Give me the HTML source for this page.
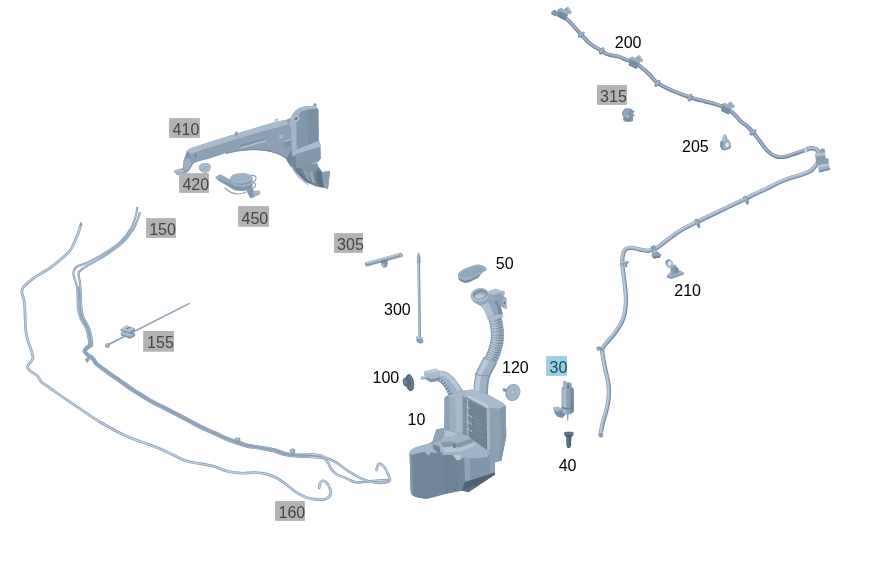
<!DOCTYPE html>
<html>
<head>
<meta charset="utf-8">
<title>Parts diagram</title>
<style>
html,body{margin:0;padding:0;background:#fff;}
body{width:882px;height:584px;overflow:hidden;position:relative;font-family:"Liberation Sans",Arial,sans-serif;}
svg{position:absolute;left:0;top:0;display:block;will-change:transform;}
.lb{font-family:"Liberation Sans",Arial,sans-serif;font-size:16px;fill:#000;}
.lg{font-family:"Liberation Sans",Arial,sans-serif;font-size:16px;fill:#454545;}
.lbl{font-family:"Liberation Sans",Arial,sans-serif;font-size:16px;fill:#134b60;}
.h{fill:none;stroke-linecap:round;stroke-linejoin:round;}
</style>
</head>
<body>
<svg width="882" height="584" viewBox="0 0 882 584">
<defs>
<linearGradient id="gTankFront" x1="0" y1="0" x2="1" y2="0">
<stop offset="0" stop-color="#8195a9"/><stop offset="1" stop-color="#93a7ba"/>
</linearGradient>
</defs>

<!-- ===== HOSES LEFT ===== -->
<g id="hoses-left">
<path class="h" d="M80.9 224.5 C80.7 225.2 80.2 227.1 79.5 229.0 C78.8 230.9 78.7 232.3 77.0 236.0 C75.3 239.7 73.6 246.3 69.3 251.4 C65.0 256.5 57.4 262.3 51.4 266.8 C45.4 271.3 37.9 275.1 33.4 278.3 C28.9 281.5 26.3 283.9 24.4 286.0 C22.5 288.1 21.8 288.4 21.8 291.2 C21.8 294.0 23.8 297.9 24.4 302.7 C25.0 307.5 25.0 315.4 25.2 320.0 C25.4 324.6 25.5 327.0 25.8 330.0 C26.1 333.0 26.2 334.8 27.1 338.2 C28.0 341.6 30.2 347.1 31.2 350.5 C32.1 353.9 33.4 356.2 32.8 358.8 C32.2 361.4 28.0 364.2 27.6 366.3 C27.2 368.4 28.9 369.5 30.5 371.1 C32.1 372.7 35.6 374.1 37.4 375.9 C39.2 377.7 39.2 379.8 41.5 382.0 C43.8 384.2 47.2 386.1 51.1 388.9 C55.0 391.6 59.8 395.1 64.8 398.5 C69.8 401.9 75.3 405.6 81.2 409.5 C87.1 413.4 92.7 417.7 100.0 422.0 C107.3 426.3 117.3 431.9 125.0 435.5 C132.7 439.1 139.7 441.1 146.0 443.5 C152.3 445.9 156.2 447.1 162.9 450.0 C169.6 452.9 179.7 458.5 185.9 460.8 C192.1 463.1 195.4 462.7 200.0 463.6 C204.6 464.5 209.1 465.1 213.7 466.4 C218.3 467.7 222.8 470.1 227.4 471.2 C232.0 472.3 236.4 472.9 241.0 473.2 C245.6 473.4 250.7 472.6 254.8 472.7 C258.9 472.8 262.4 473.1 265.8 473.9 C269.2 474.7 272.1 475.7 275.3 477.3 C278.5 478.9 281.4 480.9 285.0 483.5 C288.6 486.1 293.2 490.4 296.8 492.7 C300.4 495.0 303.0 496.4 306.4 497.5 C309.8 498.6 314.2 499.4 317.4 499.6 C320.6 499.8 323.4 499.7 325.6 498.9 C327.8 498.1 329.7 496.6 330.4 494.8 C331.1 493.0 330.4 489.9 329.7 487.9 C329.0 485.8 327.5 483.7 326.3 482.5 C325.1 481.3 323.4 480.6 322.4 480.8 C321.3 481.0 320.5 482.6 320.0 483.8 C319.5 485.0 319.3 487.2 319.2 487.9" stroke="#8398ae" stroke-width="2.7"/><path class="h" d="M80.9 224.5 C80.7 225.2 80.2 227.1 79.5 229.0 C78.8 230.9 78.7 232.3 77.0 236.0 C75.3 239.7 73.6 246.3 69.3 251.4 C65.0 256.5 57.4 262.3 51.4 266.8 C45.4 271.3 37.9 275.1 33.4 278.3 C28.9 281.5 26.3 283.9 24.4 286.0 C22.5 288.1 21.8 288.4 21.8 291.2 C21.8 294.0 23.8 297.9 24.4 302.7 C25.0 307.5 25.0 315.4 25.2 320.0 C25.4 324.6 25.5 327.0 25.8 330.0 C26.1 333.0 26.2 334.8 27.1 338.2 C28.0 341.6 30.2 347.1 31.2 350.5 C32.1 353.9 33.4 356.2 32.8 358.8 C32.2 361.4 28.0 364.2 27.6 366.3 C27.2 368.4 28.9 369.5 30.5 371.1 C32.1 372.7 35.6 374.1 37.4 375.9 C39.2 377.7 39.2 379.8 41.5 382.0 C43.8 384.2 47.2 386.1 51.1 388.9 C55.0 391.6 59.8 395.1 64.8 398.5 C69.8 401.9 75.3 405.6 81.2 409.5 C87.1 413.4 92.7 417.7 100.0 422.0 C107.3 426.3 117.3 431.9 125.0 435.5 C132.7 439.1 139.7 441.1 146.0 443.5 C152.3 445.9 156.2 447.1 162.9 450.0 C169.6 452.9 179.7 458.5 185.9 460.8 C192.1 463.1 195.4 462.7 200.0 463.6 C204.6 464.5 209.1 465.1 213.7 466.4 C218.3 467.7 222.8 470.1 227.4 471.2 C232.0 472.3 236.4 472.9 241.0 473.2 C245.6 473.4 250.7 472.6 254.8 472.7 C258.9 472.8 262.4 473.1 265.8 473.9 C269.2 474.7 272.1 475.7 275.3 477.3 C278.5 478.9 281.4 480.9 285.0 483.5 C288.6 486.1 293.2 490.4 296.8 492.7 C300.4 495.0 303.0 496.4 306.4 497.5 C309.8 498.6 314.2 499.4 317.4 499.6 C320.6 499.8 323.4 499.7 325.6 498.9 C327.8 498.1 329.7 496.6 330.4 494.8 C331.1 493.0 330.4 489.9 329.7 487.9 C329.0 485.8 327.5 483.7 326.3 482.5 C325.1 481.3 323.4 480.6 322.4 480.8 C321.3 481.0 320.5 482.6 320.0 483.8 C319.5 485.0 319.3 487.2 319.2 487.9" stroke="#bfcfe0" stroke-width="1.4"/>
<path class="h" d="M78.8 287.3 C79.0 290.7 79.2 302.8 79.7 307.9 C80.2 313.0 80.7 314.6 82.0 318.0 C83.3 321.4 86.2 324.6 87.5 328.0 C88.8 331.4 89.5 335.4 90.1 338.2 C90.6 341.0 91.4 343.3 90.8 345.0 C90.2 346.7 87.4 347.5 86.4 348.5 C85.4 349.5 84.5 350.2 84.7 351.2 C84.9 352.2 86.0 353.4 87.4 354.7 C88.8 356.0 91.3 357.2 92.9 358.8 C94.5 360.4 94.5 361.9 97.0 364.2 C99.5 366.5 103.9 369.5 108.0 372.5 C112.1 375.5 117.0 378.8 121.6 382.0 C126.1 385.2 130.6 388.5 135.3 391.6 C140.0 394.7 145.4 398.0 150.0 400.6 C154.6 403.2 157.8 404.5 162.7 407.0 C167.6 409.5 173.1 412.3 179.3 415.6 C185.5 418.9 194.3 423.7 200.0 426.6 C205.7 429.5 209.1 430.7 213.7 432.8 C218.3 434.9 223.5 437.4 227.4 439.0 C231.3 440.6 233.6 441.3 237.0 442.4 C240.4 443.5 243.9 444.9 248.0 445.8 C252.1 446.7 257.1 447.1 261.6 447.9 C266.2 448.7 271.4 449.6 275.3 450.6 C279.2 451.6 281.6 453.2 285.0 454.0 C288.4 454.8 291.8 455.1 295.9 455.4 C300.0 455.7 305.6 455.4 309.6 455.6 C313.6 455.8 318.3 456.3 320.0 456.4" stroke="#7d92a8" stroke-width="1.8"/><path class="h" d="M78.8 287.3 C79.0 290.7 79.2 302.8 79.7 307.9 C80.2 313.0 80.7 314.6 82.0 318.0 C83.3 321.4 86.2 324.6 87.5 328.0 C88.8 331.4 89.5 335.4 90.1 338.2 C90.6 341.0 91.4 343.3 90.8 345.0 C90.2 346.7 87.4 347.5 86.4 348.5 C85.4 349.5 84.5 350.2 84.7 351.2 C84.9 352.2 86.0 353.4 87.4 354.7 C88.8 356.0 91.3 357.2 92.9 358.8 C94.5 360.4 94.5 361.9 97.0 364.2 C99.5 366.5 103.9 369.5 108.0 372.5 C112.1 375.5 117.0 378.8 121.6 382.0 C126.1 385.2 130.6 388.5 135.3 391.6 C140.0 394.7 145.4 398.0 150.0 400.6 C154.6 403.2 157.8 404.5 162.7 407.0 C167.6 409.5 173.1 412.3 179.3 415.6 C185.5 418.9 194.3 423.7 200.0 426.6 C205.7 429.5 209.1 430.7 213.7 432.8 C218.3 434.9 223.5 437.4 227.4 439.0 C231.3 440.6 233.6 441.3 237.0 442.4 C240.4 443.5 243.9 444.9 248.0 445.8 C252.1 446.7 257.1 447.1 261.6 447.9 C266.2 448.7 271.4 449.6 275.3 450.6 C279.2 451.6 281.6 453.2 285.0 454.0 C288.4 454.8 291.8 455.1 295.9 455.4 C300.0 455.7 305.6 455.4 309.6 455.6 C313.6 455.8 318.3 456.3 320.0 456.4" stroke="#bccbdb" stroke-width="0.6"/>
<path class="h" d="M89.4 344.5 C88.7 345.0 86.5 346.5 85.5 347.7 C84.6 348.8 83.3 350.1 83.5 351.4 C83.7 352.7 85.2 354.2 86.6 355.6 C88.0 357.0 90.5 358.1 92.1 359.7 C93.7 361.2 93.6 362.8 96.2 365.1 C98.7 367.4 103.1 370.5 107.3 373.5 C111.4 376.5 116.3 379.8 120.9 383.0 C125.4 386.2 129.9 389.5 134.6 392.6 C139.4 395.8 144.8 399.1 149.4 401.7 C154.0 404.3 157.2 405.6 162.1 408.1 C167.0 410.6 172.5 413.4 178.7 416.7 C184.9 420.0 193.7 424.8 199.4 427.7 C205.2 430.6 208.6 431.9 213.2 433.9 C217.8 436.0 223.0 438.5 226.9 440.2 C230.8 441.8 233.1 442.4 236.6 443.6 C240.1 444.7 243.6 446.1 247.7 447.0 C251.9 447.9 256.8 448.3 261.4 449.1 C265.9 449.9 271.1 450.8 275.0 451.8 C278.9 452.8 281.2 454.4 284.7 455.2 C288.2 456.0 291.7 456.4 295.8 456.6 C300.0 456.9 305.5 456.7 309.5 456.8 C313.6 457.0 318.2 457.5 319.9 457.6" stroke="#7d92a8" stroke-width="1.8"/><path class="h" d="M89.4 344.5 C88.7 345.0 86.5 346.5 85.5 347.7 C84.6 348.8 83.3 350.1 83.5 351.4 C83.7 352.7 85.2 354.2 86.6 355.6 C88.0 357.0 90.5 358.1 92.1 359.7 C93.7 361.2 93.6 362.8 96.2 365.1 C98.7 367.4 103.1 370.5 107.3 373.5 C111.4 376.5 116.3 379.8 120.9 383.0 C125.4 386.2 129.9 389.5 134.6 392.6 C139.4 395.8 144.8 399.1 149.4 401.7 C154.0 404.3 157.2 405.6 162.1 408.1 C167.0 410.6 172.5 413.4 178.7 416.7 C184.9 420.0 193.7 424.8 199.4 427.7 C205.2 430.6 208.6 431.9 213.2 433.9 C217.8 436.0 223.0 438.5 226.9 440.2 C230.8 441.8 233.1 442.4 236.6 443.6 C240.1 444.7 243.6 446.1 247.7 447.0 C251.9 447.9 256.8 448.3 261.4 449.1 C265.9 449.9 271.1 450.8 275.0 451.8 C278.9 452.8 281.2 454.4 284.7 455.2 C288.2 456.0 291.7 456.4 295.8 456.6 C300.0 456.9 305.5 456.7 309.5 456.8 C313.6 457.0 318.2 457.5 319.9 457.6" stroke="#bccbdb" stroke-width="0.6"/>
<path class="h" d="M137.2 207.7 C137.0 209.0 136.9 212.2 135.9 215.6 C134.9 219.1 133.5 224.2 131.0 228.4 C128.5 232.7 125.6 236.9 120.9 241.2 C116.3 245.5 109.0 250.6 103.1 254.2 C97.2 257.9 90.1 261.0 85.6 263.2 C81.1 265.3 78.3 265.3 76.2 267.1 C74.2 268.9 73.3 270.7 73.4 274.1 C73.5 277.5 76.3 281.8 77.1 287.5 C77.9 293.1 77.4 302.9 78.0 308.1 C78.6 313.3 79.3 315.1 80.6 318.5 C82.0 322.0 84.8 325.2 86.1 328.6 C87.4 331.9 88.1 335.8 88.6 338.5 C89.2 341.1 89.3 343.5 89.4 344.5" stroke="#8398ae" stroke-width="2.1"/><path class="h" d="M137.2 207.7 C137.0 209.0 136.9 212.2 135.9 215.6 C134.9 219.1 133.5 224.2 131.0 228.4 C128.5 232.7 125.6 236.9 120.9 241.2 C116.3 245.5 109.0 250.6 103.1 254.2 C97.2 257.9 90.1 261.0 85.6 263.2 C81.1 265.3 78.3 265.3 76.2 267.1 C74.2 268.9 73.3 270.7 73.4 274.1 C73.5 277.5 76.3 281.8 77.1 287.5 C77.9 293.1 77.4 302.9 78.0 308.1 C78.6 313.3 79.3 315.1 80.6 318.5 C82.0 322.0 84.8 325.2 86.1 328.6 C87.4 331.9 88.1 335.8 88.6 338.5 C89.2 341.1 89.3 343.5 89.4 344.5" stroke="#bfcfe0" stroke-width="0.8"/>
<path class="h" d="M309.5 456.8 C311.3 457.0 317.5 457.4 319.9 457.6 C322.3 457.9 322.8 457.6 324.2 458.5 C325.6 459.4 327.3 461.6 328.4 463.3 C329.5 465.0 329.6 467.0 331.0 468.8 C332.4 470.6 334.3 472.7 336.6 474.2 C338.9 475.7 342.3 476.6 344.8 477.7 C347.3 478.8 349.3 480.2 351.6 481.0 C353.9 481.8 355.5 482.5 358.5 482.5 C361.5 482.5 366.3 481.5 369.5 481.2 C372.7 480.9 374.5 480.8 377.7 480.6 C380.9 480.4 386.8 480.1 388.6 480.0" stroke="#8398ae" stroke-width="2.5"/><path class="h" d="M309.5 456.8 C311.3 457.0 317.5 457.4 319.9 457.6 C322.3 457.9 322.8 457.6 324.2 458.5 C325.6 459.4 327.3 461.6 328.4 463.3 C329.5 465.0 329.6 467.0 331.0 468.8 C332.4 470.6 334.3 472.7 336.6 474.2 C338.9 475.7 342.3 476.6 344.8 477.7 C347.3 478.8 349.3 480.2 351.6 481.0 C353.9 481.8 355.5 482.5 358.5 482.5 C361.5 482.5 366.3 481.5 369.5 481.2 C372.7 480.9 374.5 480.8 377.7 480.6 C380.9 480.4 386.8 480.1 388.6 480.0" stroke="#bfcfe0" stroke-width="1.2"/>
<path class="h" d="M92.2 345.5 C91.4 346.1 88.3 348.4 87.3 349.3 C86.2 350.3 85.7 350.3 85.9 351.0 C86.0 351.8 86.9 352.7 88.2 353.8 C89.5 355.0 92.1 356.4 93.7 357.9 C95.3 359.5 95.3 361.0 97.8 363.3 C100.3 365.5 104.7 368.5 108.7 371.5 C112.8 374.4 117.8 377.8 122.3 381.0 C126.9 384.2 131.3 387.5 136.0 390.6 C140.7 393.6 146.1 397.0 150.6 399.5 C155.2 402.1 158.4 403.4 163.3 405.9 C168.1 408.4 173.7 411.2 179.9 414.5 C186.1 417.8 194.8 422.6 200.6 425.5 C206.3 428.3 209.7 429.6 214.2 431.7 C218.8 433.7 224.0 436.3 227.9 437.8 C231.7 439.4 234.0 440.1 237.4 441.2 C240.8 442.3 244.2 443.7 248.3 444.6 C252.3 445.5 257.3 445.9 261.8 446.7 C266.4 447.5 271.7 448.4 275.6 449.4 C279.5 450.4 281.9 452.0 285.3 452.8 C288.7 453.6 291.9 453.9 296.0 454.2 C300.0 454.4 305.6 454.2 309.7 454.4 C313.7 454.5 318.4 455.0 320.1 455.2" stroke="#7d92a8" stroke-width="1.8"/><path class="h" d="M92.2 345.5 C91.4 346.1 88.3 348.4 87.3 349.3 C86.2 350.3 85.7 350.3 85.9 351.0 C86.0 351.8 86.9 352.7 88.2 353.8 C89.5 355.0 92.1 356.4 93.7 357.9 C95.3 359.5 95.3 361.0 97.8 363.3 C100.3 365.5 104.7 368.5 108.7 371.5 C112.8 374.4 117.8 377.8 122.3 381.0 C126.9 384.2 131.3 387.5 136.0 390.6 C140.7 393.6 146.1 397.0 150.6 399.5 C155.2 402.1 158.4 403.4 163.3 405.9 C168.1 408.4 173.7 411.2 179.9 414.5 C186.1 417.8 194.8 422.6 200.6 425.5 C206.3 428.3 209.7 429.6 214.2 431.7 C218.8 433.7 224.0 436.3 227.9 437.8 C231.7 439.4 234.0 440.1 237.4 441.2 C240.8 442.3 244.2 443.7 248.3 444.6 C252.3 445.5 257.3 445.9 261.8 446.7 C266.4 447.5 271.7 448.4 275.6 449.4 C279.5 450.4 281.9 452.0 285.3 452.8 C288.7 453.6 291.9 453.9 296.0 454.2 C300.0 454.4 305.6 454.2 309.7 454.4 C313.7 454.5 318.4 455.0 320.1 455.2" stroke="#bccbdb" stroke-width="0.6"/>
<path class="h" d="M139.7 213.0 C139.5 213.7 139.7 214.2 138.6 217.0 C137.5 219.8 135.7 225.3 133.0 229.6 C130.3 233.9 127.3 238.4 122.5 242.8 C117.7 247.3 110.2 252.3 104.3 256.2 C98.4 260.0 91.1 263.4 87.0 265.8 C82.9 268.3 81.2 269.6 79.8 270.9 C78.4 272.3 78.5 271.2 78.6 273.9 C78.7 276.6 80.0 281.5 80.5 287.1 C81.0 292.8 80.9 302.7 81.4 307.7 C81.9 312.8 82.1 314.2 83.4 317.5 C84.6 320.7 87.5 324.0 88.9 327.4 C90.3 330.9 91.0 334.9 91.6 337.9 C92.1 340.9 92.1 344.2 92.2 345.5" stroke="#8398ae" stroke-width="2.1"/><path class="h" d="M139.7 213.0 C139.5 213.7 139.7 214.2 138.6 217.0 C137.5 219.8 135.7 225.3 133.0 229.6 C130.3 233.9 127.3 238.4 122.5 242.8 C117.7 247.3 110.2 252.3 104.3 256.2 C98.4 260.0 91.1 263.4 87.0 265.8 C82.9 268.3 81.2 269.6 79.8 270.9 C78.4 272.3 78.5 271.2 78.6 273.9 C78.7 276.6 80.0 281.5 80.5 287.1 C81.0 292.8 80.9 302.7 81.4 307.7 C81.9 312.8 82.1 314.2 83.4 317.5 C84.6 320.7 87.5 324.0 88.9 327.4 C90.3 330.9 91.0 334.9 91.6 337.9 C92.1 340.9 92.1 344.2 92.2 345.5" stroke="#bfcfe0" stroke-width="0.8"/>
<path class="h" d="M309.7 454.4 C311.4 454.5 317.7 454.7 320.1 455.2 C322.5 455.6 321.7 456.0 324.2 457.1 C326.7 458.2 331.8 459.9 335.2 461.9 C338.6 463.8 341.6 466.6 344.8 468.8 C348.0 471.0 351.2 473.1 354.4 474.9 C357.6 476.7 360.6 478.4 364.0 479.7 C367.4 481.0 371.2 482.0 374.9 482.5 C378.5 483.0 383.4 482.9 385.9 482.5 C388.4 482.1 389.6 481.6 390.0 480.2 C390.4 478.8 388.9 476.3 388.0 474.2 C387.1 472.1 385.7 469.1 384.5 467.4 C383.3 465.7 381.7 464.4 380.6 464.0 C379.5 463.6 378.7 463.7 378.0 464.7 C377.3 465.7 376.7 469.1 376.4 470.0" stroke="#8398ae" stroke-width="2.5"/><path class="h" d="M309.7 454.4 C311.4 454.5 317.7 454.7 320.1 455.2 C322.5 455.6 321.7 456.0 324.2 457.1 C326.7 458.2 331.8 459.9 335.2 461.9 C338.6 463.8 341.6 466.6 344.8 468.8 C348.0 471.0 351.2 473.1 354.4 474.9 C357.6 476.7 360.6 478.4 364.0 479.7 C367.4 481.0 371.2 482.0 374.9 482.5 C378.5 483.0 383.4 482.9 385.9 482.5 C388.4 482.1 389.6 481.6 390.0 480.2 C390.4 478.8 388.9 476.3 388.0 474.2 C387.1 472.1 385.7 469.1 384.5 467.4 C383.3 465.7 381.7 464.4 380.6 464.0 C379.5 463.6 378.7 463.7 378.0 464.7 C377.3 465.7 376.7 469.1 376.4 470.0" stroke="#bfcfe0" stroke-width="1.2"/>
<path class="h" d="M80.6 225.6 L81.2 222.8" stroke="#8a9eb3" stroke-width="1.6"/>

</g>

<!-- ===== HOSE RIGHT (200) ===== -->
<g id="hose-right">
<path class="h" d="M553.2 13.0 C554.3 13.2 557.9 13.6 560.0 14.5 C562.1 15.4 563.9 16.8 566.0 18.5 C568.1 20.2 569.9 22.0 572.4 24.7 C574.9 27.4 578.3 31.4 581.3 34.6 C584.3 37.8 586.8 41.1 590.2 43.8 C593.6 46.5 599.2 49.3 601.8 51.0 C604.4 52.7 604.3 53.1 606.0 53.8 C607.7 54.5 609.7 54.9 612.0 55.4 C614.3 55.9 617.3 56.2 619.7 57.0 C622.1 57.8 624.0 59.0 626.5 60.0 C629.0 61.0 632.1 61.6 634.5 62.8 C636.9 64.0 638.6 65.1 641.0 67.0 C643.4 68.9 646.2 71.3 649.0 74.0 C651.8 76.7 653.7 80.2 657.5 83.0 C661.3 85.8 666.6 88.1 672.0 90.5 C677.4 92.9 684.5 95.5 690.0 97.3 C695.5 99.1 700.8 100.4 705.0 101.5 C709.2 102.6 711.5 102.8 715.0 104.0 C718.5 105.2 723.0 107.0 726.0 108.5 C729.0 110.0 730.7 111.0 733.0 113.0 C735.3 115.0 737.7 118.4 740.0 120.6 C742.3 122.8 744.8 124.0 747.0 126.0 C749.2 128.0 750.8 129.6 753.0 132.3 C755.2 135.0 758.1 138.9 760.5 142.0 C762.9 145.1 764.9 148.4 767.4 150.8 C769.9 153.2 772.6 155.3 775.6 156.3 C778.6 157.3 782.0 157.2 785.2 156.8 C788.4 156.4 791.8 154.8 794.8 153.8 C797.8 152.8 800.7 151.8 803.0 151.0 C805.3 150.2 807.6 149.3 808.5 149.0" stroke="#6c8196" stroke-width="3.9"/><path class="h" d="M553.2 13.0 C554.3 13.2 557.9 13.6 560.0 14.5 C562.1 15.4 563.9 16.8 566.0 18.5 C568.1 20.2 569.9 22.0 572.4 24.7 C574.9 27.4 578.3 31.4 581.3 34.6 C584.3 37.8 586.8 41.1 590.2 43.8 C593.6 46.5 599.2 49.3 601.8 51.0 C604.4 52.7 604.3 53.1 606.0 53.8 C607.7 54.5 609.7 54.9 612.0 55.4 C614.3 55.9 617.3 56.2 619.7 57.0 C622.1 57.8 624.0 59.0 626.5 60.0 C629.0 61.0 632.1 61.6 634.5 62.8 C636.9 64.0 638.6 65.1 641.0 67.0 C643.4 68.9 646.2 71.3 649.0 74.0 C651.8 76.7 653.7 80.2 657.5 83.0 C661.3 85.8 666.6 88.1 672.0 90.5 C677.4 92.9 684.5 95.5 690.0 97.3 C695.5 99.1 700.8 100.4 705.0 101.5 C709.2 102.6 711.5 102.8 715.0 104.0 C718.5 105.2 723.0 107.0 726.0 108.5 C729.0 110.0 730.7 111.0 733.0 113.0 C735.3 115.0 737.7 118.4 740.0 120.6 C742.3 122.8 744.8 124.0 747.0 126.0 C749.2 128.0 750.8 129.6 753.0 132.3 C755.2 135.0 758.1 138.9 760.5 142.0 C762.9 145.1 764.9 148.4 767.4 150.8 C769.9 153.2 772.6 155.3 775.6 156.3 C778.6 157.3 782.0 157.2 785.2 156.8 C788.4 156.4 791.8 154.8 794.8 153.8 C797.8 152.8 800.7 151.8 803.0 151.0 C805.3 150.2 807.6 149.3 808.5 149.0" stroke="#8fa3b8" stroke-width="2.6" transform="translate(-0.35 -0.45)"/><path class="h" d="M553.2 13.0 C554.3 13.2 557.9 13.6 560.0 14.5 C562.1 15.4 563.9 16.8 566.0 18.5 C568.1 20.2 569.9 22.0 572.4 24.7 C574.9 27.4 578.3 31.4 581.3 34.6 C584.3 37.8 586.8 41.1 590.2 43.8 C593.6 46.5 599.2 49.3 601.8 51.0 C604.4 52.7 604.3 53.1 606.0 53.8 C607.7 54.5 609.7 54.9 612.0 55.4 C614.3 55.9 617.3 56.2 619.7 57.0 C622.1 57.8 624.0 59.0 626.5 60.0 C629.0 61.0 632.1 61.6 634.5 62.8 C636.9 64.0 638.6 65.1 641.0 67.0 C643.4 68.9 646.2 71.3 649.0 74.0 C651.8 76.7 653.7 80.2 657.5 83.0 C661.3 85.8 666.6 88.1 672.0 90.5 C677.4 92.9 684.5 95.5 690.0 97.3 C695.5 99.1 700.8 100.4 705.0 101.5 C709.2 102.6 711.5 102.8 715.0 104.0 C718.5 105.2 723.0 107.0 726.0 108.5 C729.0 110.0 730.7 111.0 733.0 113.0 C735.3 115.0 737.7 118.4 740.0 120.6 C742.3 122.8 744.8 124.0 747.0 126.0 C749.2 128.0 750.8 129.6 753.0 132.3 C755.2 135.0 758.1 138.9 760.5 142.0 C762.9 145.1 764.9 148.4 767.4 150.8 C769.9 153.2 772.6 155.3 775.6 156.3 C778.6 157.3 782.0 157.2 785.2 156.8 C788.4 156.4 791.8 154.8 794.8 153.8 C797.8 152.8 800.7 151.8 803.0 151.0 C805.3 150.2 807.6 149.3 808.5 149.0" stroke="#aec0d2" stroke-width="1.0" transform="translate(-0.6 -0.8)"/>
<path class="h" d="M816.5 164.6 C815.6 165.6 813.7 168.8 811.2 170.5 C808.7 172.2 804.8 173.6 801.6 174.8 C798.4 176.0 795.4 176.4 792.0 177.5 C788.6 178.6 785.1 179.8 781.0 181.6 C776.9 183.4 771.9 186.1 767.4 188.3 C762.9 190.5 757.4 192.9 753.7 194.7 C750.1 196.4 751.1 196.1 745.5 198.8 C739.9 201.5 728.1 207.1 720.0 211.0 C711.9 214.9 703.7 218.7 697.0 222.0 C690.3 225.3 685.2 227.8 680.0 231.0 C674.8 234.2 670.0 238.1 666.0 241.0 C662.0 243.9 659.0 246.9 656.0 248.5 C653.0 250.1 650.7 250.6 648.0 250.8 C645.3 251.0 642.7 250.1 640.0 249.6 C637.3 249.1 634.3 247.9 632.0 247.8 C629.7 247.7 627.5 247.9 626.0 249.0 C624.5 250.1 623.6 251.8 623.0 254.5 C622.4 257.2 622.1 261.1 622.3 265.0 C622.5 268.9 623.4 272.2 624.0 278.0 C624.6 283.8 626.1 293.3 626.0 300.0 C625.9 306.7 625.3 312.5 623.5 318.0 C621.7 323.5 617.9 328.8 615.0 333.0 C612.1 337.2 608.1 340.8 606.0 343.5 C603.9 346.2 602.9 346.8 602.4 349.0 C601.9 351.2 602.5 353.5 603.0 357.0 C603.5 360.5 604.6 365.3 605.5 370.0 C606.4 374.7 608.1 380.0 608.6 385.0 C609.1 390.0 608.9 395.5 608.5 400.0 C608.1 404.5 607.0 408.0 606.0 412.0 C605.0 416.0 603.5 420.2 602.6 424.0 C601.7 427.8 600.9 432.8 600.6 434.5" stroke="#768ba0" stroke-width="4.2"/><path class="h" d="M816.5 164.6 C815.6 165.6 813.7 168.8 811.2 170.5 C808.7 172.2 804.8 173.6 801.6 174.8 C798.4 176.0 795.4 176.4 792.0 177.5 C788.6 178.6 785.1 179.8 781.0 181.6 C776.9 183.4 771.9 186.1 767.4 188.3 C762.9 190.5 757.4 192.9 753.7 194.7 C750.1 196.4 751.1 196.1 745.5 198.8 C739.9 201.5 728.1 207.1 720.0 211.0 C711.9 214.9 703.7 218.7 697.0 222.0 C690.3 225.3 685.2 227.8 680.0 231.0 C674.8 234.2 670.0 238.1 666.0 241.0 C662.0 243.9 659.0 246.9 656.0 248.5 C653.0 250.1 650.7 250.6 648.0 250.8 C645.3 251.0 642.7 250.1 640.0 249.6 C637.3 249.1 634.3 247.9 632.0 247.8 C629.7 247.7 627.5 247.9 626.0 249.0 C624.5 250.1 623.6 251.8 623.0 254.5 C622.4 257.2 622.1 261.1 622.3 265.0 C622.5 268.9 623.4 272.2 624.0 278.0 C624.6 283.8 626.1 293.3 626.0 300.0 C625.9 306.7 625.3 312.5 623.5 318.0 C621.7 323.5 617.9 328.8 615.0 333.0 C612.1 337.2 608.1 340.8 606.0 343.5 C603.9 346.2 602.9 346.8 602.4 349.0 C601.9 351.2 602.5 353.5 603.0 357.0 C603.5 360.5 604.6 365.3 605.5 370.0 C606.4 374.7 608.1 380.0 608.6 385.0 C609.1 390.0 608.9 395.5 608.5 400.0 C608.1 404.5 607.0 408.0 606.0 412.0 C605.0 416.0 603.5 420.2 602.6 424.0 C601.7 427.8 600.9 432.8 600.6 434.5" stroke="#a3b6c9" stroke-width="2.9" transform="translate(-0.35 -0.45)"/><path class="h" d="M816.5 164.6 C815.6 165.6 813.7 168.8 811.2 170.5 C808.7 172.2 804.8 173.6 801.6 174.8 C798.4 176.0 795.4 176.4 792.0 177.5 C788.6 178.6 785.1 179.8 781.0 181.6 C776.9 183.4 771.9 186.1 767.4 188.3 C762.9 190.5 757.4 192.9 753.7 194.7 C750.1 196.4 751.1 196.1 745.5 198.8 C739.9 201.5 728.1 207.1 720.0 211.0 C711.9 214.9 703.7 218.7 697.0 222.0 C690.3 225.3 685.2 227.8 680.0 231.0 C674.8 234.2 670.0 238.1 666.0 241.0 C662.0 243.9 659.0 246.9 656.0 248.5 C653.0 250.1 650.7 250.6 648.0 250.8 C645.3 251.0 642.7 250.1 640.0 249.6 C637.3 249.1 634.3 247.9 632.0 247.8 C629.7 247.7 627.5 247.9 626.0 249.0 C624.5 250.1 623.6 251.8 623.0 254.5 C622.4 257.2 622.1 261.1 622.3 265.0 C622.5 268.9 623.4 272.2 624.0 278.0 C624.6 283.8 626.1 293.3 626.0 300.0 C625.9 306.7 625.3 312.5 623.5 318.0 C621.7 323.5 617.9 328.8 615.0 333.0 C612.1 337.2 608.1 340.8 606.0 343.5 C603.9 346.2 602.9 346.8 602.4 349.0 C601.9 351.2 602.5 353.5 603.0 357.0 C603.5 360.5 604.6 365.3 605.5 370.0 C606.4 374.7 608.1 380.0 608.6 385.0 C609.1 390.0 608.9 395.5 608.5 400.0 C608.1 404.5 607.0 408.0 606.0 412.0 C605.0 416.0 603.5 420.2 602.6 424.0 C601.7 427.8 600.9 432.8 600.6 434.5" stroke="#c4d2df" stroke-width="1.0" transform="translate(-0.6 -0.8)"/>
<g transform="translate(581.3 34.6) rotate(48)"><ellipse rx="2.0" ry="4.0" fill="#71869b"/><ellipse cx="-0.3" cy="-0.3" rx="1.4" ry="3.2" fill="#9fb2c5"/></g>
<g transform="translate(601.8 51.0) rotate(30)"><ellipse rx="2.0" ry="4.0" fill="#71869b"/><ellipse cx="-0.3" cy="-0.3" rx="1.4" ry="3.2" fill="#9fb2c5"/></g>
<g transform="translate(657.5 83.5) rotate(40)"><ellipse rx="2.0" ry="4.0" fill="#71869b"/><ellipse cx="-0.3" cy="-0.3" rx="1.4" ry="3.2" fill="#9fb2c5"/></g>
<g transform="translate(690.0 97.5) rotate(20)"><ellipse rx="2.0" ry="4.0" fill="#71869b"/><ellipse cx="-0.3" cy="-0.3" rx="1.4" ry="3.2" fill="#9fb2c5"/></g>
<g transform="translate(753.0 132.3) rotate(52)"><ellipse rx="2.0" ry="4.0" fill="#71869b"/><ellipse cx="-0.3" cy="-0.3" rx="1.4" ry="3.2" fill="#9fb2c5"/></g>
<g transform="translate(746.0 199.4) rotate(-27)"><ellipse rx="2.0" ry="4.0" fill="#71869b"/><ellipse cx="-0.3" cy="-0.3" rx="1.4" ry="3.2" fill="#9fb2c5"/></g>
<g transform="translate(697.3 222.6) rotate(-27)"><ellipse rx="2.0" ry="4.0" fill="#71869b"/><ellipse cx="-0.3" cy="-0.3" rx="1.4" ry="3.2" fill="#9fb2c5"/></g>
<path d="M745.4 201.5 L748.4 200.5 L748.8 204.2 L746.4 204.8 Z" fill="#8195a9"/>
<path d="M696.8 224.6 L699.8 223.6 L700.4 227.4 L698 228 Z" fill="#8195a9"/>
<g transform="translate(563.0 13.5) rotate(33) scale(1.00)"><path d="M-5 -3.6 L4.5 -4 L5.5 3.2 L-4.2 4 Z" fill="#788ca1"/><path d="M-5 -3.6 L4.5 -4 L4.8 -1 L-4.8 -0.4 Z" fill="#9db0c3"/><path d="M-1.5 -4 L0.5 -8.6 L6.6 -6.2 L6.2 -2.6 L4.5 -4 Z" fill="#8da1b5"/><path d="M0.5 -8.6 L6.6 -6.2 L5 -5.2 L1 -6.6 Z" fill="#b4c5d5"/><path d="M-6.4 -1.6 L-4.8 -2.4 L-4.4 2.8 L-6 3 Z" fill="#8397ab"/><path d="M-4.2 4 L5.5 3.2 L5.2 5 L-3.4 5.6 Z" fill="#6a7e93"/></g>
<g transform="translate(634.5 62.0) rotate(30) scale(1.00)"><path d="M-5 -3.6 L4.5 -4 L5.5 3.2 L-4.2 4 Z" fill="#788ca1"/><path d="M-5 -3.6 L4.5 -4 L4.8 -1 L-4.8 -0.4 Z" fill="#9db0c3"/><path d="M-1.5 -4 L0.5 -8.6 L6.6 -6.2 L6.2 -2.6 L4.5 -4 Z" fill="#8da1b5"/><path d="M0.5 -8.6 L6.6 -6.2 L5 -5.2 L1 -6.6 Z" fill="#b4c5d5"/><path d="M-6.4 -1.6 L-4.8 -2.4 L-4.4 2.8 L-6 3 Z" fill="#8397ab"/><path d="M-4.2 4 L5.5 3.2 L5.2 5 L-3.4 5.6 Z" fill="#6a7e93"/></g>
<g transform="translate(726.5 108.0) rotate(30) scale(0.95)"><path d="M-5 -3.6 L4.5 -4 L5.5 3.2 L-4.2 4 Z" fill="#788ca1"/><path d="M-5 -3.6 L4.5 -4 L4.8 -1 L-4.8 -0.4 Z" fill="#9db0c3"/><path d="M-1.5 -4 L0.5 -8.6 L6.6 -6.2 L6.2 -2.6 L4.5 -4 Z" fill="#8da1b5"/><path d="M0.5 -8.6 L6.6 -6.2 L5 -5.2 L1 -6.6 Z" fill="#b4c5d5"/><path d="M-6.4 -1.6 L-4.8 -2.4 L-4.4 2.8 L-6 3 Z" fill="#8397ab"/><path d="M-4.2 4 L5.5 3.2 L5.2 5 L-3.4 5.6 Z" fill="#6a7e93"/></g>
<path d="M552.2 11 L555 9.6 L557.6 12.6 L556.4 16.6 L553.2 15.6 Z" fill="#8397ab"/>
<g id="clip4">
<path class="h" d="M805.5 150 Q812 146.6 816.5 149.5 Q819.5 152 820 156" stroke="#7a8ea3" stroke-width="4.4"/>
<path class="h" d="M805.5 149.6 Q812 146.2 816.5 149 Q819 151 819.6 155" stroke="#a9bbcc" stroke-width="2.4"/>
<path d="M803.4 148.6 L806.4 147.6 L807.6 151.8 L804.6 152.8 Z" fill="#c0cfdc"/>
<path d="M820 150.6 L821.4 148.6 L824.6 148.8 L825.4 152 L824 154.6 L820.6 154 Z" fill="#8da1b5"/>
<path d="M815 153.5 L825 152.6 L825.6 158 L828.4 158.4 L828.8 164 L816.4 165.6 Z" fill="#8a9eb2"/>
<path d="M815 153.5 L825 152.6 L825.2 155.4 L815.4 156.6 Z" fill="#b0c1d1"/>
<path d="M817.6 165.2 L828.8 163.4 L830 169.6 L819 172.2 Z" fill="#9db0c3"/>
<path d="M817.6 165.2 L828.8 163.4 L829 165.4 L818 167.4 Z" fill="#bccbd9"/>
<path d="M819 170.6 L830 168.2 L830 169.8 L819.2 172.4 Z" fill="#788ca1"/>
</g>
<g id="clip5">
<path d="M650.6 246.4 L654.6 245 L656.4 248 L655.6 251.4 L651.6 251.8 Z" fill="#8da1b5"/>
<path d="M652.6 251 L656.6 250.4 L661.6 255 L660 257.8 L653.6 258.4 L651.4 256 Z" fill="#8ea2b6"/>
<path d="M653.6 256.6 L660 256 L660 257.8 L653.6 258.4 Z" fill="#6f8398"/>
<path d="M652.6 251 L656.6 250.4 L658 251.8 L653.4 252.6 Z" fill="#b7c7d7"/>
</g>
<g id="clip6">
<path d="M620.2 262 L628.4 260.8 L628.8 263.2 L627 264 L627.4 267 L625.2 267.4 L624.8 264.6 L620.6 265 Z" fill="#879bb0"/>
<path d="M620.2 262 L628.4 260.8 L628.5 262 L620.4 263.2 Z" fill="#b4c5d5"/>
</g>
<g id="clip7">
<path d="M596.4 347 L600 346.4 L604 349.6 L603.4 351.6 L600 350.6 L597 350.4 Z" fill="#8a9eb2"/>
<path d="M598.8 431.4 L602.6 431.6 L603.4 436.6 L600.6 437.8 L598.8 436.4 Z" fill="#8b9fb3"/>
<path d="M598.8 431.4 L602.6 431.6 L602.8 433 L598.8 433 Z" fill="#b4c5d5"/>
</g>

</g>

<!-- ===== PARTS ===== -->
<g id="parts">
<!-- ===== TANK (10) ===== -->
<g id="tank">
<!-- filler pipe entering tank -->
<path class="h" d="M495 318 C497.6 328 498 336 496.8 343 C495.4 350 493.6 355 489.8 362" stroke="#8196ab" stroke-width="13" style="stroke-linecap:butt"/>
<path class="h" d="M494.6 318 C497.2 328 497.6 336 496.4 343 C495 350 493.2 355 489.4 362" stroke="#9db0c4" stroke-width="11" style="stroke-linecap:butt"/>
<path class="h" d="M492 318.5 C494.6 328 495 336 493.8 343 C492.4 350 490.6 355 486.8 362" stroke="#b5c6d6" stroke-width="4.2" style="stroke-linecap:butt"/>
<path class="h" d="M498.6 318 C501.2 328 501.6 336 500.4 343 C499 350 497.2 355 493.4 362" stroke="#8599ae" stroke-width="3.4" style="stroke-linecap:butt"/>
<path class="h" d="M489.4 321.7 Q495.9 321.8 501.7 318.8 M490.0 324.3 Q496.5 324.6 502.3 321.8 M490.3 326.2 Q496.8 326.7 502.8 324.1 M490.7 328.7 Q497.2 329.4 503.2 327.0 M491.0 331.0 Q497.4 332.0 503.5 329.8 M491.1 332.6 Q497.5 333.8 503.7 331.9 M491.1 335.3 Q497.5 336.8 503.7 335.2 M491.1 337.3 Q497.3 339.1 503.7 337.8 M491.0 339.2 Q497.1 341.4 503.5 340.3 M490.7 341.5 Q496.6 344.1 503.1 343.4 M490.3 343.2 Q496.1 346.1 502.6 345.9 M489.8 345.5 Q495.5 348.5 502.0 348.5 M489.2 347.6 Q494.8 350.9 501.3 351.1 M488.6 349.6 Q494.0 353.1 500.5 353.6 M487.8 351.6 Q493.1 355.3 499.6 356.1 M487.0 353.6 Q492.1 357.6 498.5 358.7 M486.0 355.7 Q490.9 359.9 497.3 361.2 M484.8 358.0 Q489.6 362.4 495.9 363.9" stroke="#6b7f94" stroke-width="0.9" opacity="0.6" style="stroke-linecap:butt"/><path class="h" d="M489.4 321.7 Q495.9 321.8 501.7 318.8 M490.0 324.3 Q496.5 324.6 502.3 321.8 M490.3 326.2 Q496.8 326.7 502.8 324.1 M490.7 328.7 Q497.2 329.4 503.2 327.0 M491.0 331.0 Q497.4 332.0 503.5 329.8 M491.1 332.6 Q497.5 333.8 503.7 331.9 M491.1 335.3 Q497.5 336.8 503.7 335.2 M491.1 337.3 Q497.3 339.1 503.7 337.8 M491.0 339.2 Q497.1 341.4 503.5 340.3 M490.7 341.5 Q496.6 344.1 503.1 343.4 M490.3 343.2 Q496.1 346.1 502.6 345.9 M489.8 345.5 Q495.5 348.5 502.0 348.5 M489.2 347.6 Q494.8 350.9 501.3 351.1 M488.6 349.6 Q494.0 353.1 500.5 353.6 M487.8 351.6 Q493.1 355.3 499.6 356.1 M487.0 353.6 Q492.1 357.6 498.5 358.7 M486.0 355.7 Q490.9 359.9 497.3 361.2 M484.8 358.0 Q489.6 362.4 495.9 363.9" stroke="#c4d2df" stroke-width="0.7" opacity="0.5" style="stroke-linecap:butt" transform="translate(0.2 1.1)"/>
<!-- smooth elbow -->
<path class="h" d="M490.4 360 C487 367 484 371 482.2 377 C481 383 480.6 388 480.6 394" stroke="#8196ab" stroke-width="14.6" style="stroke-linecap:butt"/>
<path class="h" d="M489.8 360 C486.4 367 483.4 371 481.6 377 C480.4 383 480 388 480 394" stroke="#9fb2c5" stroke-width="12" style="stroke-linecap:butt"/>
<path class="h" d="M486.8 360 C483.4 367 480.4 371 478.6 377 C477.4 383 477 388 477 394" stroke="#b9c9d8" stroke-width="4.5" style="stroke-linecap:butt"/>
<path d="M475 373.5 Q481 377 489 375.4" class="h" stroke="#7a8ea3" stroke-width="0.9"/>

<!-- left pipe / band -->
<path d="M437.6 370.9 C441 370.6 444.6 371 447.2 372.3 C449.8 373.8 451.6 375.2 453.4 377.1 C455.4 379.2 457.2 381.4 458.8 383.9 L463.4 391 L452.6 398 C452 396.6 451.4 395.6 450.6 394.2 C449.6 392 448.6 390 447.2 388 C445.8 385.6 444.2 383 442.4 381.2 L436.5 377.5 Z" fill="#9fb2c5"/>
<path class="h" d="M438.6 373.4 C446 373.2 453 379 459.6 391.6" stroke="#b4c6d7" stroke-width="4.2" style="stroke-linecap:butt"/>
<path class="h" d="M437.4 378.6 C443.4 381 447.6 387 451.4 396.6" stroke="#6a7e93" stroke-width="3" style="stroke-linecap:butt"/>
<path class="h" d="M437.4 378.6 C443.4 381 447.6 387 451.4 396.6" stroke="#aebfd0" stroke-width="3" style="stroke-linecap:butt" stroke-dasharray="1.5 1.5"/>
<path class="h" d="M436.6 380.2 C442.2 382.6 446.2 388 449.8 397.4" stroke="#7d91a6" stroke-width="0.9" style="stroke-linecap:butt"/>
<path d="M424 371.5 L435.5 368.6 L440 371 L440 380.5 L431 382.2 L424.5 378.5 Z" fill="#a9bbcc"/>
<path d="M424.5 378.5 L431 382.2 L440 380.5 L440 377 L431 379 L424.3 375.5 Z" fill="#7f93a8"/>
<path d="M424 371.5 L435.5 368.6 L440 371 L429 373.6 Z" fill="#bccbd9"/>
<path d="M420.6 376.2 L427 375.3 L427 378.6 L420.8 379.4 Z" fill="#b6c6d6"/>
<path d="M420.8 378.4 L427 377.6 L427 378.8 L420.8 379.6 Z" fill="#8498ac"/>

<!-- silhouette -->
<path d="M444.5 399.5 Q444.5 396.6 447.5 395.8 L461 390.8 L472 389.6 L488 394.4 L502.6 402.8 Q505.6 404.4 505.8 407 L506.2 436.4 L501.4 460.4 L494.8 462.5 L494.8 474.8 L468.5 492 L461.6 490.5 L445.2 494 L427.4 498.8 Q418 498.8 412 495 Q410.8 494 410.8 492 L409.6 453 Q409.6 450.6 412 449.4 L415 447.4 L430 443.3 L432.9 440.5 L436.3 429.6 L443.8 428.2 L444.5 420 Z" fill="#889cb1"/>
<!-- tower front face -->
<path d="M444.5 399.5 Q444.5 396.6 447.5 395.8 L461 390.8 L466 396 L467 435 L444.5 430 Z" fill="#9baec2"/>
<path d="M448 396.5 L461 391.5 L465.5 396.5 L466 434 L456 432 L455 398 Z" fill="#a7b9cb"/>
<path d="M444.5 399.5 Q444.5 396.6 447.5 395.8 L449 396 L449.5 431 L444.5 430 Z" fill="#8da1b5"/>
<!-- top surface -->
<path d="M461 390.8 L472 389.6 L488 394.4 L502.6 402.8 Q505.4 404.4 505.6 406.6 L500 409 L488 408.5 L468 397.5 L465 396 Z" fill="#a9bbcc"/>
<path d="M466 396.6 L470 395.6 L489 405.6 L487.5 408.6 Z" fill="#bccbd9"/>
<!-- recessed panel -->
<path d="M462.4 395.6 L465.2 397.2 L465.4 435 L462.6 434.2 Z" fill="#8094a9"/>
<path d="M465.2 397.2 L487.4 408.8 L487.8 451.6 L465.4 435 Z" fill="#6c7e91"/>
<path d="M468.6 400.4 L486 409.4 L486.2 448 L468.8 435.8 Z" fill="#718396"/>
<path d="M465.2 397.2 L487.4 408.8 L487.4 410.4 L468.6 400.6 L468.8 437.4 L465.4 435 Z" fill="#7d90a4"/>
<g stroke="#c2d0dd" stroke-width="0.8" fill="none" opacity="0.9">
<path d="M467.6 399 L467.9 436.5"/>
<path d="M466.2 406.8 L469.9 408.3 M466.2 414.3 L471.4 416.6 L471.4 418 M466.2 421.4 L471.4 423.7 L471.4 425 M466.2 428.4 L471.4 430.7 L471.4 432"/>
</g>
<g stroke="#a9bbcc" stroke-width="0.6" fill="none" opacity="0.8" stroke-dasharray="1.2 0.8">
<path d="M474 417.5 L482 422 M474 421 L482 425.5 M474 424.5 L480 428 M476 429 L483 433 M477 434.5 L483 438"/>
</g>
<!-- right side of tower -->
<path d="M486.6 408.6 L500 408.5 L505.6 405.5 L506.2 436.4 L501.4 460.4 L494.8 462.5 L494.8 451 L487.2 450 Z" fill="#8ca0b4"/>
<path d="M486.6 408.6 L489.5 408.6 L490 450.4 L487.2 450 Z" fill="#a5b7c9"/>
<path d="M500 408.5 L505.6 405.5 L506.2 436.4 L501.4 460.4 L499 461.2 L501 436 Z" fill="#8397ab"/>
<!-- step / mid surfaces -->
<path d="M436.3 429.6 L443.8 428.2 L444.5 430 L467 435.5 L487.2 450 L489.5 452.5 L488 457 L478 458.6 L462 457.6 L457 460.6 L452 455 L441 455.6 L432.9 448 L432.9 440.5 Z" fill="#a1b3c6"/>
<path d="M436.3 429.6 L443.8 428.2 L444.5 430 L458 433.5 L452 436.5 L440 436 L434.5 441.5 L432.9 440.5 Z" fill="#b2c3d3"/>
<path d="M440.5 442.5 L452 441.2 L456.5 443.5 L471.5 438.5 L474 442 L459 447.8 L455 446 L443.5 447.5 Z" fill="#8599ae"/>
<path d="M442 447.8 L455 446.2 L459 448 L474 442.2 L476 445 L461 451.5 L445 452.5 Z" fill="#b4c5d5"/>
<ellipse cx="454.6" cy="445.8" rx="2" ry="2.4" fill="#6d8196"/>
<path d="M436.3 429.6 L443.8 428.2 L445 433.4 L441 440.4 L432.6 443.6 L432.9 440.5 Z" fill="#8fa2b6"/><path d="M431.7 444 L439.5 446.2 L440.1 451.6 L442.9 453.7 L441 456 L431.3 454 Z" fill="#74869a"/>
<path d="M452 455 L457 460.6 L460.5 460.2 L461 455 Z" fill="#b7c7d7"/>
<!-- lower block top-left bevel -->
<path d="M409.6 453 Q409.6 450.6 412 449.4 L415 447.4 L430 443.3 L432.9 444 L432.9 448 L438 453.5 L431 452.5 L428.5 456 L424.5 451.8 L412 455 Z" fill="#a4b6c8"/>
<!-- lower block front face -->
<path d="M409.6 453.5 L412 455 L424.5 451.8 L428.5 456 L431 452.5 L438 453.5 L441 455.6 L452 455 L457 460.6 L461 459.6 L464.5 458 L465 482 L461.6 490.5 L445.2 494 L427.4 498.8 Q418 498.8 412 495 Q410.8 494 410.8 492 Z" fill="#72869b"/>
<path d="M409.6 453.5 L412 455 L413 495.5 Q410.8 494 410.8 492 Z" fill="#8296aa"/>
<path d="M441 455.6 L452 455 L457 460.6 L458 489 L445.2 494 L444 470 Z" fill="#6d8196" opacity="0.7"/>
<!-- front-right face -->
<path d="M464.5 458 L478 458.6 L488 457 L489.5 452.5 L490 474 L465 482 Z" fill="#8195aa"/>
<path d="M464.5 458 L470 458.3 L470 480.4 L465 482 Z" fill="#8fa3b7"/>
<!-- right lower -->
<path d="M489.5 452.5 L490 450.4 L494.8 451 L494.8 474.8 L490 476 Z" fill="#8b9fb3"/>
<!-- underside -->
<path d="M461.6 490.5 L465 482 L490 474 L494.8 472.5 L494.8 474.8 L468.5 492 Z" fill="#4f6276"/>
<path d="M456 491.8 L461.6 490.5 L468.5 492 L480 484.5 L470 487 Z" fill="#5b6e82"/>
</g>

<!-- ===== FILLER NECK TOP ===== -->
<g id="neck">
<!-- bracket -->
<path d="M488 291.5 L496 288.8 L503 291.5 L503.5 296 L506.3 298 L506.5 309.5 L502 307 L496 302 L489 299 Z" fill="#8da1b5"/>
<path d="M488 291.5 L496 288.8 L503 291.5 L497 294 L490 296 Z" fill="#b1c2d2"/>
<path d="M500.5 292 L504.3 290.2 L505 294.5 L503 296 Z" fill="#a6b8ca"/>
<path d="M502.8 299.5 L506.3 298 L506.5 309.5 L503.5 306 Z" fill="#a3b5c7"/>
<ellipse cx="504.6" cy="303" rx="0.9" ry="1.6" fill="#5f7387"/>
<!-- neck body -->
<path d="M470.4 296 C471 301 476 304 481 306 C484 309 486 313 487.5 319 L503 316.5 C502 309 500.5 303 497.5 298 L489 293 Z" fill="#93a7bb"/>
<path d="M481 306 C484 309 486 313 487.5 319 L494 318 C493 311 491 306 488 302 Z" fill="#b0c1d1"/>
<path d="M497 300 C500 305 502 310 503 316.5 L499 317.2 C498.5 311 497 306 494 301 Z" fill="#7a8ea3"/>
<path d="M487.3 316.5 L503 314 L503.4 317.6 L487.8 320.2 Z" fill="#a9bbcc"/>
<!-- funnel rim -->
<ellipse cx="479.7" cy="294.8" rx="9.4" ry="6.8" transform="rotate(-8 479.7 294.8)" fill="#aebfd0"/>
<ellipse cx="480.2" cy="294.4" rx="7.6" ry="5" transform="rotate(-8 480.2 294.4)" fill="#8094a9"/>
<ellipse cx="480.4" cy="295.6" rx="6" ry="3.2" transform="rotate(-8 480.4 295.6)" fill="#9fb3c6"/><ellipse cx="479.4" cy="296.4" rx="4.2" ry="2.1" transform="rotate(-8 479.4 296.4)" fill="#b9cad9"/>
</g>

<!-- ===== CAP (50) ===== -->
<g id="cap50">
<path d="M458 274.3 C459 271 466 268 470.7 266.4 C475 264.8 480 264.2 482.5 265.4 C485 266.6 487 268.4 486.4 269.6 C485.6 271 482 273 481 274.1 L478.7 277.4 C474 280 470 282 468.4 282.4 L464.9 283 C462 282 459.5 280.6 458.6 279.4 Z" fill="#7b8fa4"/>
<path d="M458 274.3 C459 271 466 268 470.7 266.4 C475 264.8 480 264.2 482.5 265.4 C485 266.6 487 268.4 486.4 269.6 C485.6 271 482 272.4 481 273.2 L478.4 275 C474 277.6 470 279.4 468.4 279.8 L464.9 280.4 C462 279.6 459.5 278.4 458.6 277.2 Z" fill="#9db0c4"/>
<path d="M460.4 274 C461.4 271.6 467 269.2 471 267.8 C475 266.4 479.4 266 481.6 266.8 C483.4 267.6 484.6 268.8 484 269.6 C483 270.8 480.4 272 479 272.8 C475 275 470 277.2 468 277.6 L465 278 C463 277.4 461 276.4 460.4 275.6 Z" fill="#94a8bc"/>
</g>

<!-- ===== ROD (300) ===== -->
<g id="rod300">
<path d="M417.3 260 L420 260 L421.1 337.4 L418.4 337.4 Z" fill="#8398ad"/>
<path d="M417.7 260 L418.9 260 L420 337.4 L418.8 337.4 Z" fill="#b2c3d3"/>
<path d="M417 256.6 L418 252.8 L419.1 252.8 L420.2 256.6 L420.7 262.6 L416.9 262.6 Z" fill="#8196ab"/>
<path d="M417.6 256.8 L418.3 253.6 L418.9 253.6 L419 262 L417.5 262 Z" fill="#a9bbcc"/>
<path d="M416.2 336.6 L422.8 337.2 L423.3 342.4 L420.4 343.8 L416.6 342 Z" fill="#899db2"/>
<path d="M416.2 336.6 L422.8 337.2 L422.9 339 L416.3 338.4 Z" fill="#b4c5d5"/>
</g>

<!-- ===== CLIP BAR (305) ===== -->
<g id="bar305">
<path d="M365 262.4 L400.8 252.8 L402.8 254.2 L402.6 256.8 L367 266.4 L365 265.2 Z" fill="#889cb1"/>
<path d="M365 262.4 L400.8 252.8 L402.8 254.2 L367 264 Z" fill="#b3c4d4"/>
<path d="M399 253.4 L400.8 252.8 L402.8 254.2 L402.6 256.8 L400.6 257.4 Z" fill="#9db0c4"/>
<path d="M380.8 261 L387.4 259.2 L387.8 263.8 L386.6 267.2 L383.4 267.8 L381.4 265 Z" fill="#8397ac"/>
<path d="M380.8 261 L387.4 259.2 L387.5 261.2 L381 263 Z" fill="#6f8398"/>
<path d="M382 263.6 L384 263.2 L384.6 267.4 L383.4 267.8 L381.8 265.4 Z" fill="#a5b7c9"/>
</g>

<!-- ===== GROMMET (100) ===== -->
<g id="grommet100">
<ellipse cx="405.6" cy="382" rx="2.8" ry="4.4" transform="rotate(-10 405.6 382)" fill="#5d6f82"/>
<ellipse cx="409.7" cy="382.7" rx="4.3" ry="8.7" transform="rotate(-10 409.7 382.7)" fill="#55677a"/>
<ellipse cx="410.3" cy="382.9" rx="3.3" ry="7.4" transform="rotate(-10 410.3 382.9)" fill="#667a8e"/>
<ellipse cx="408.2" cy="382" rx="2.5" ry="5" transform="rotate(-10 408.2 382)" fill="#5a6c7f"/>
<ellipse cx="405.2" cy="381.8" rx="1.7" ry="3" transform="rotate(-10 405.2 381.8)" fill="#6c8094"/>
</g>

<!-- ===== PLUG (120) ===== -->
<g id="plug120">
<path d="M502.4 388.2 L506.5 388.8 L506.5 391.8 L503.4 391.6 Z" fill="#7d91a6"/>
<ellipse cx="512.9" cy="392.5" rx="7.3" ry="8.7" transform="rotate(18 512.9 392.5)" fill="#8a9eb2"/>
<ellipse cx="513.5" cy="392.3" rx="6.5" ry="8" transform="rotate(18 513.5 392.3)" fill="#a6b8ca"/>
<ellipse cx="512.8" cy="392.4" rx="2" ry="2.4" fill="#b9c9d8"/>
<ellipse cx="512.8" cy="392.4" rx="2" ry="2.4" fill="none" stroke="#8195a9" stroke-width="0.5"/>
</g>

<!-- ===== PUMP (30) ===== -->
<g id="pump30">
<path d="M566.8 412 L568.5 412 L568.3 420.6 L567 420.6 Z" fill="#8ea2b6"/>
<path d="M553.2 407.6 L558 406.8 L562 409 L566 410 L566 414 L562.5 418 L558 417 L555 414 Z" fill="#7b8fa4"/>
<path d="M553.2 407.6 L558 406.8 L562 409.4 L558 411.5 L555.5 411 Z" fill="#a9bbcc"/>
<path d="M561.6 388.8 Q561.6 387 563.5 386.8 L571.5 386.8 Q573.6 387 573.6 389 L573.8 411.5 Q571 414.6 567.5 414.6 Q563.5 414.4 561.6 411.5 Z" fill="#8b9fb3"/>
<path d="M562.6 388.5 L566.5 388.5 L566.5 414.2 Q563.8 413.6 562.6 411.6 Z" fill="#a9bbcc"/>
<path d="M570.6 388.6 L573.6 389 L573.8 411.5 Q572.5 413 570.8 413.8 Z" fill="#73879c"/>
<path d="M561.6 406.6 Q567.5 409.5 573.8 406.6 L573.8 408.2 Q567.5 411 561.6 408.2 Z" fill="#6f8398"/>
<path d="M563 381.6 L565.8 380.8 L567.2 382.6 L569.4 382 L571.6 383.4 L571.8 388 L563 388 Z" fill="#8da1b5"/>
<path d="M563 381.6 L565.8 380.8 L566 388 L563 388 Z" fill="#a5b7c9"/>
<path d="M567.4 384.8 L569 384.8 L569 388 L567.4 388 Z" fill="#5f7387"/>
</g>

<!-- ===== SCREW (40) ===== -->
<g id="screw40">
<path d="M564 433.4 Q564 431.8 566 431.7 L571.6 431.7 Q573.7 431.8 573.7 433.4 L573 435.6 L571.4 437 L571 446 L569.6 448 L567.6 448 L566.4 446 L566.2 437 L564.6 435.6 Z" fill="#4c5d6e"/>
<path d="M564.6 432.4 L573 432.4 L572.6 434.4 L565 434.4 Z" fill="#6b7d8f"/>
<path d="M567.4 437.5 L568.6 437.5 L568.6 447 L567.6 447 Z" fill="#728496"/>
</g>

<!-- ===== FENDER TANK (410) ===== -->
<g id="part410">
<!-- lower right bracket -->
<path d="M304 168 L318 166 L322.3 172.1 L330 171.1 L328 188.8 L316.5 186.6 L304.9 181.7 L295.3 172.1 L290.5 164 Z" fill="#6f8398"/>
<path d="M300.5 165.5 L317.5 163 L318.4 168 L312 175 L306 178 Z" fill="#7f93a8"/>
<path d="M321.5 172.2 L330 171.1 L328 188.8 L323.6 187.6 Z" fill="#8a9eb2"/>
<path d="M316 170.5 L321.5 172.2 L323.6 187.6 L318 185.8 Z" fill="#5f7387"/>
<path d="M309 172.5 L312.5 171.2 L315.5 183.6 L312.4 182.6 Z" fill="#94a8bc"/>
<path d="M303 171 L306 170.2 L311 181.4 L308 180.4 Z" fill="#8a9eb2"/>
<path class="h" d="M290.5 164 C294 172 300 180 308 184.5" stroke="#a5b7c9" stroke-width="1.1"/>
<path class="h" d="M293 162.5 C296.5 170 302 177.5 309.5 182.5" stroke="#55687b" stroke-width="1.0"/>
<!-- silhouette main -->
<path d="M186.4 151.9 Q187 149.8 190 148.6 L208.6 142.2 L233.6 134.5 L252.9 128.7 L275 122 L285.7 120 L290.5 118.1 L293.4 113.3 Q295.5 109.5 299 108.2 L304.9 106.2 L313.6 106.4 Q318.2 107 318.4 110.4 L318.8 139.3 L320.3 145.1 L320.7 158.6 L318.4 161.5 L304 166.6 L296 168.6 L290.5 166.3 L285.7 158.6 Q282 155.5 277.9 153.8 Q272 151.8 266.4 150.9 Q259 150 252.9 149.9 Q246 150 239.4 150.7 L224.4 153.6 L209.9 158.5 L197.2 161.7 L193.4 163.6 L188.6 171.2 L186.3 172.4 L177.7 174.9 L173.6 171.3 L179.1 169 L182.7 168.6 L183.8 159.5 Z" fill="#8a9eb3"/>
<!-- arm top surface -->
<path d="M186.4 151.9 Q187 149.8 190 148.6 L208.6 142.2 L233.6 134.5 L252.9 128.7 L275 122 L285.7 120 L289 124.6 L276 127.8 L254 134 L234.5 140 L210 147.4 L192 153.6 L187 156 Z" fill="#a9bbcd"/>
<!-- arm front face lighter band -->
<path d="M187 156 L192 153.6 L210 147.4 L234.5 140 L254 134 L266 130.6 L266 140 L247 143.5 L240 148 L224.4 152.6 L209.9 157.4 L197.2 160.6 L190 162.8 Z" fill="#8c9fb3"/>
<!-- recess in arm face -->
<path d="M240 147 L265.6 139.8 L266.4 141.6 L241.4 149 Z" fill="#a9bbcc"/>
<path d="M239.6 145.6 L265 138.4 L265.6 139.8 L240 147 Z" fill="#7a8ea3"/>
<!-- mid face between arm and box -->
<path d="M266 131.6 L276 128.6 L289 124.6 L291 128 L291.5 150 L285.7 158.6 Q282 155.5 277.9 153.8 Q272 151.8 266.4 150.9 Z" fill="#8c9fb4"/>
<path d="M279.4 135.6 L282.4 134.6 L282.6 138 L279.6 139 Z" fill="#a9bbcc"/>
<!-- box: left lit face -->
<path d="M290.5 118.1 L293.4 113.3 Q295.5 109.5 299 108.2 L301.5 111 L297.5 118 L296.5 124 L296.8 148.5 L292 152 L291 128 L289 124.6 Z" fill="#a3b5c7"/>
<!-- box front face -->
<path d="M299 108.2 L304.9 106.2 L313.6 106.4 Q318.2 107 318.4 110.4 L318.8 141 L297 149.8 L296.5 124 L297.5 118 L301.5 111 Z" fill="#8397ac"/>
<path d="M307.4 107.8 L313.6 107.2 Q317.4 107.6 317.6 110.6 L318 141 L308 145 Z" fill="#7b8fa4"/>
<path d="M299 108.2 L304.9 106.2 L313.6 106.4 Q317 106.8 318 108.6 L308 109.6 L301.5 111.2 Z" fill="#a9bbcc"/>
<!-- filler ring on box top -->
<ellipse cx="296" cy="118.6" rx="3.6" ry="2.7" transform="rotate(-25 296 118.6)" fill="#b7c7d7"/>
<ellipse cx="296" cy="118.6" rx="2.3" ry="1.6" transform="rotate(-25 296 118.6)" fill="#6f8398"/>
<!-- lower box -->
<path d="M296.6 150 L318.8 141.5 L320.3 144.4 L320.7 158.6 L318.4 161.8 L304 166.6 L296 168.6 L296.4 156 Z" fill="#8599ae"/>
<path d="M292 152 L296.6 149.6 L318.8 140.8 L320.3 144.4 L320.4 146.6 L297.6 153.6 L292.6 156 Z" fill="#a9bbcd"/>
<path d="M285.7 158.6 L291.5 150 L292.6 157 L296.4 156 L296 168.6 L290.5 166.3 Z" fill="#73879c"/>
<path d="M283.6 140.6 L291 138.4 L291.2 145.6 L285.6 148 L283.8 146.6 Z" fill="#7f93a8"/>
<path d="M283.6 140.6 L291 138.4 L291 140 L284 142.2 Z" fill="#a9bbcd"/>
<path class="h" d="M226 153.6 Q246 147.8 266.4 150.4 Q278 152.6 285 157.6" stroke="#6f8398" stroke-width="0.9"/>
<!-- small tabs on top edge -->
<path d="M274.6 121.2 L275 119.2 L277.4 118.6 L278 120.6 Z" fill="#a9bbcc"/>
<path d="M313 105.8 L313.6 103.4 L315.6 103.2 L317 105 L316 107 Z" fill="#8ea2b6"/>
<path d="M234.6 134.4 L235 132 L237.4 131.4 L238 133.4 L237 136.4 L235.4 136.8 Z" fill="#90a4b8"/>
<!-- left foot -->
<path d="M183.8 159.5 L189 157.4 L193.4 163.6 L188.6 171.2 L186.3 172.4 L177.7 174.9 L173.6 171.3 L179.1 169 L182.7 168.6 Z" fill="#8da1b5"/>
<path d="M173.6 171.3 L179.1 169 L185.6 170.8 L178 173.6 Z" fill="#a9bbcc"/><path d="M184.4 160 L188.4 158.6 L191.6 163.4 L187.4 170.4 L183.4 168.6 Z" fill="#9eb1c4"/>
<path d="M186.6 153 L189.4 152 L189.4 157.6 L187 158.6 Z" fill="#7b8fa4"/>
<ellipse cx="195.6" cy="155.8" rx="1.2" ry="1.6" fill="#6b7f94"/>
</g>

<!-- ===== CAP (420) ===== -->
<g id="part420">
<path d="M198.8 167 C199 164.6 202.4 163.2 206 163.3 C209.4 163.5 211.2 165 210.8 167.2 L209.8 170.6 C208.8 172.4 206 173 203.6 172.4 C201 171.8 199.4 170.2 199 168.6 Z" fill="#8599ae"/>
<path d="M198.8 167 C199 164.6 202.4 163.2 206 163.3 C208 163.4 209.6 164 210.4 165 C207 164.6 203.4 165.8 201.6 168.4 L200.6 170.8 C199.6 170 199 169 199 168.6 Z" fill="#a3b5c7"/>
<ellipse cx="206.2" cy="168.4" rx="4.6" ry="3.6" transform="rotate(-20 206.2 168.4)" fill="#c0cfdc"/>
<ellipse cx="206.4" cy="168.5" rx="3.5" ry="2.6" transform="rotate(-20 206.4 168.5)" fill="#8fa3b7"/>
<ellipse cx="206.8" cy="168.9" rx="2.6" ry="1.8" transform="rotate(-20 206.8 168.9)" fill="#a9bbcc"/>
</g>

<!-- ===== SENSOR/BRACKET (450) ===== -->
<g id="part450">
<!-- left bar -->
<path d="M215.1 177.2 L220.2 174.5 L233 181 L231 188 L218.2 180.4 Z" fill="#8397ab"/>
<path d="M215.1 177.2 L220.2 174.5 L233 181 L229 183.6 Z" fill="#97abbf"/>
<!-- lower wire ring -->
<path class="h" d="M225 188 Q230 193.6 238 194 Q243 194 246 192" stroke="#94a8bc" stroke-width="1.2"/>
<!-- right tab / leg -->
<path d="M246.4 188.4 L252 187.4 L254 191 L259.6 190.6 L260.4 194 L253 197.6 L250.6 198.4 L247.4 193 Z" fill="#8498ad"/>
<path d="M252.6 191.4 L259.6 190.6 L260.4 194 L254 196.6 Z" fill="#a3b5c7"/>
<!-- disc body -->
<path d="M230 178.4 C230.4 175 236 173.2 242 173.2 C248 173.2 252.4 175 252.6 178 L252.4 186.4 C251.6 189.4 247 191 241.4 191 C235.6 191 231 189.4 230.4 186.4 Z" fill="#8a9eb2"/>
<path class="h" d="M230.6 182.4 Q235 186 242 186 Q248.6 185.8 252.4 182.6" stroke="#b4c5d5" stroke-width="0.8"/>
<path class="h" d="M230.8 185.4 Q235 189 242 189 Q248.6 188.8 252.2 185.6" stroke="#70849a" stroke-width="0.8"/>
<!-- disc top -->
<ellipse cx="241.3" cy="178.3" rx="11.3" ry="5" transform="rotate(-4 241.3 178.3)" fill="#a7b9cb"/>
<ellipse cx="241.5" cy="178.1" rx="9.6" ry="3.9" transform="rotate(-4 241.5 178.1)" fill="#9fb2c5"/>
<!-- right loops -->
<path class="h" d="M251.6 175.4 Q256.4 175 256 178.6 Q255.6 181.4 252.6 182" stroke="#8da1b5" stroke-width="1.1"/>
<path class="h" d="M252.2 182.6 Q256 182.6 255.4 185.6 Q254.8 188 251.6 188.4" stroke="#8da1b5" stroke-width="1.1"/>
</g>

<!-- ===== KNOB (315) ===== -->
<g id="part315">
<path d="M622 113.4 C622 110 625 108 628.4 108.2 C630.6 108.4 632.4 109.4 633 110.2 L635 111.4 L633.2 112.8 L633.4 114 L635 115.4 L633 116.4 L633 121 L630 122 L625 121.6 L623.4 120.4 L623.2 117 C622.4 116 622 114.8 622 113.4 Z" fill="#8398ad"/>
<path d="M622.6 113 C622.8 110.4 625.4 108.8 628.2 109 C629.4 109.2 630.2 109.6 630.6 110 C628.6 111 627.4 113 627.4 115.4 L627 117.4 L623.6 116.8 C622.9 115.8 622.5 114.4 622.6 113 Z" fill="#93a7bb"/>
<path d="M624 117.6 L627.4 118.2 L632.6 117.4 L632.6 120.6 L630 121.6 L625.2 121.2 L624 120.2 Z" fill="#7b8fa4"/>
<path d="M627.6 114.6 L629 116.6 L628 118 L626.8 116.6 Z" fill="#b7c7d7"/>
</g>

<!-- ===== CLIP (205) ===== -->
<g id="part205">
<path d="M722.4 138 L723.4 135 L725.6 134.2 L727 136.4 L727.4 139 L729.6 140.6 L730.6 143 L731.2 147.6 L729 149 L725 150.6 L721.6 149.4 L720 146 L720.4 142 L721.8 140.4 Z" fill="#9db0c4"/>
<path d="M722.4 138 L723.4 135 L725.6 134.2 L725.2 140 L722.6 141.4 Z" fill="#b4c5d5"/>
<path d="M720 146 L720.4 142 L721.8 140.4 L723.6 142.6 L723 147.6 L724.6 150.2 L721.6 149.4 Z" fill="#8397ab"/>
<path d="M725.4 144 L728.2 142.6 L729 146 L726 147.6 Z" fill="#eef3f7"/>
<path d="M725 150.6 L729 149 L731.2 147.6 L730.8 145.6 L727 148 L724.4 148.6 Z" fill="#8a9eb3"/>
</g>

<!-- ===== CLIP (210) ===== -->
<g id="part210">
<path d="M666.7 275.4 L672 271 L679.6 270.2 L684 272.6 L683.6 274 L671.6 278.4 L667 277.2 Z" fill="#9eb1c4"/>
<path d="M667 276.6 L671.6 277.6 L683.8 273.2 L683.6 274.4 L671.6 278.8 L667 277.6 Z" fill="#778ba0"/>
<path d="M670.4 266.6 L674.8 264.4 L678.4 268.6 L678.6 272.4 L673 274.6 L670.6 272.4 Z" fill="#8a9eb3"/>
<path d="M674.6 267 L678.4 268.6 L678.6 272.4 L675 273.8 Z" fill="#7a8ea3"/>
<path d="M665.4 261.4 L667.6 259.4 L670.4 259.6 L672.4 261.2 L673.6 264 L672.8 266.8 L670.4 268.2 L667.6 267.4 L666 265 Z" fill="#a6b8ca"/>
<path d="M667.6 262 L670 261 L671.6 263 L670.6 265.6 L668.6 265.6 Z" fill="#e4ebf1"/>
<path d="M665.4 261.4 L667.6 259.4 L670.4 259.6 L668.6 261 L667 263.4 L666.6 266 L666 265 Z" fill="#8195a9"/>
</g>

<!-- ===== CABLE TIE (155) ===== -->
<g id="part155">
<path class="h" d="M107.6 345 L189 303.6" stroke="#8398ad" stroke-width="1.5"/>
<path class="h" d="M120 338.4 L189 303.4" stroke="#a9bbcc" stroke-width="0.6"/>
<ellipse cx="107.4" cy="345.5" rx="2.4" ry="2.2" fill="#8196ab"/>
<ellipse cx="107.2" cy="345.2" rx="1.3" ry="1.1" fill="#b0c1d1"/>
<path d="M120.4 329.4 L126.4 325.2 L135 328.4 L135 330.6 L132.4 332 L135.2 333.4 L135.2 336 L130 338.8 L121 335.4 L120.6 333 L123 331.6 L120.4 331 Z" fill="#7f93a8"/>
<path d="M120.4 329.4 L126.4 325.2 L135 328.4 L129.4 332 Z" fill="#b4c5d5"/>
<path d="M121 333.4 L124 331.8 L132.4 334.4 L135.2 333.4 L135.2 334.2 L130 337 L121 334.2 Z" fill="#a9bbcc"/>
<path d="M125.4 328.6 L129.6 327 L131 327.6 L127 329.4 Z" fill="#72869b"/>
</g>

<!-- ===== small clips on bundle 150 ===== -->
<g id="bundleclips">
<path d="M85.3 358.6 L89 357.6 L89.6 360.4 L88.2 361 L88.4 362.4 L86.4 362.6 L86.2 361 L85.4 360.6 Z" fill="#8a9eb3"/>
<ellipse cx="237.6" cy="439.8" rx="2.8" ry="2.4" fill="#8a9eb3"/>
<ellipse cx="237.3" cy="439.4" rx="1.5" ry="1.2" fill="#b0c1d1"/>
<ellipse cx="292.6" cy="451" rx="2.8" ry="2.4" fill="#8a9eb3"/>
<ellipse cx="292.3" cy="450.6" rx="1.5" ry="1.2" fill="#b0c1d1"/>
</g>

</g>

<!-- ===== LABELS ===== -->
<g id="labels">
<rect x="169.1" y="118.1" width="30.8" height="19.8" fill="#b3b3b3"/><text class="lg" x="172.6" y="134.8">410</text>
<rect x="179.1" y="173.1" width="29.8" height="19.8" fill="#b3b3b3"/><text class="lg" x="182.4" y="189.8">420</text>
<rect x="238.1" y="206.1" width="30.8" height="20.7" fill="#b3b3b3"/><text class="lg" x="241.5" y="223.7">450</text>
<rect x="146.1" y="218.1" width="29.8" height="19.8" fill="#b3b3b3"/><text class="lg" x="149.2" y="234.8">150</text>
<rect x="334.1" y="233.1" width="28.8" height="19.8" fill="#b3b3b3"/><text class="lg" x="337.1" y="250.0">305</text>
<rect x="143.2" y="331.0" width="30.8" height="20.7" fill="#b3b3b3"/><text class="lg" x="147.1" y="347.7">155</text>
<rect x="275.1" y="501.1" width="29.8" height="19.8" fill="#b3b3b3"/><text class="lg" x="278.5" y="517.8">160</text>
<rect x="597.1" y="85.1" width="29.8" height="19.8" fill="#b3b3b3"/><text class="lg" x="600.1" y="101.8">315</text>
<rect x="546.1" y="356.1" width="20.9" height="19.8" fill="#9ccee2"/><text class="lbl" x="549.6" y="372.8">30</text>
<text class="lb" x="614.8" y="47.5">200</text>
<text class="lb" x="682" y="151.5">205</text>
<text class="lb" x="674.3" y="296.4">210</text>
<text class="lb" x="495.8" y="269">50</text>
<text class="lb" x="384" y="314.5">300</text>
<text class="lb" x="372.5" y="383">100</text>
<text class="lb" x="502" y="373">120</text>
<text class="lb" x="407.5" y="424.5">10</text>
<text class="lb" x="558.7" y="470.5">40</text>
</g>
</svg>
</body>
</html>
